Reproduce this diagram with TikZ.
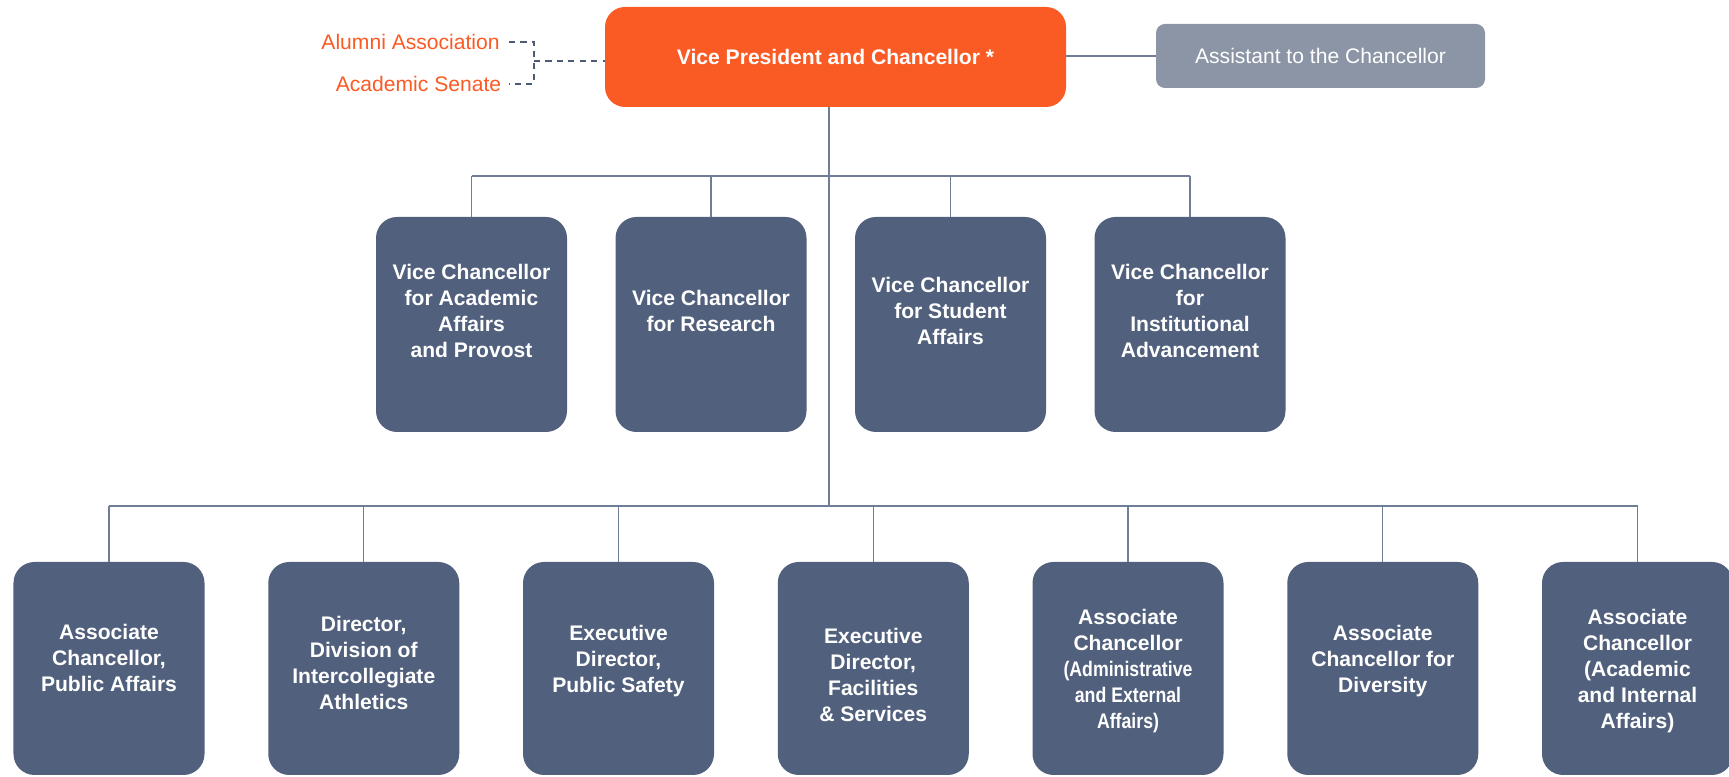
\documentclass[tikz,border=0pt]{standalone}
\usepackage{fontspec}
\setmainfont{Liberation Sans}
\usepackage{graphicx}
\definecolor{vporange}{HTML}{FA5A24}
\definecolor{slate}{HTML}{51607C}
\definecolor{greybox}{HTML}{8B95A5}
\definecolor{wirecol}{HTML}{6F7D97}
\definecolor{dashcol}{HTML}{4E5B75}
\tikzset{
  unit/.style={rounded corners=.42cm, fill=slate, minimum width=3.82cm, minimum height=4.3cm, inner sep=0pt},
  unittext/.style={text=white, align=center, font=\fontsize{12}{14.8}\selectfont\bfseries, inner sep=0pt},
  wire/.style={draw=wirecol, line width=.7pt},
  dashwire/.style={draw=dashcol, line width=.9pt, dash pattern=on 3.5pt off 3pt},
}
\newcommand{\narrow}[1]{\scalebox{.84}[1]{#1}}
\begin{document}
\begin{tikzpicture}
\useasboundingbox (0,0) rectangle (34.58,15.54);
\node[rounded corners=.4cm, fill=vporange, minimum width=9.22cm, minimum height=2cm, text=white, font=\fontsize{12}{14.8}\selectfont\bfseries] (vp) at (16.71,14.4) {Vice President and Chancellor *};
\node[rounded corners=.18cm, fill=greybox, minimum width=6.58cm, minimum height=1.28cm, text=white, font=\fontsize{12}{14.8}\selectfont] (asst) at (26.41,14.42) {Assistant to the Chancellor};
\node[anchor=east, inner sep=0pt, text=vporange, font=\fontsize{12}{14.8}\selectfont] (alumni) at (10,14.7) {Alumni Association};
\node[anchor=east, inner sep=0pt, text=vporange, font=\fontsize{12}{14.8}\selectfont] (senate) at (10.03,13.86) {Academic Senate};
\coordinate (brk) at (10.68,14.32);
\coordinate (upbus) at (16.58,12.02);
\coordinate (lowbus) at (16.58,5.42);
\draw[dashwire] ([xshift=.18cm]alumni.east) -| (brk) |- ([xshift=.15cm]senate.east);
\draw[dashwire] (brk) -- (vp.west |- brk);
\draw[wire] (vp.east |- asst.west) -- (asst.west);
\draw[wire] (vp.south -| lowbus) -- (lowbus);
\foreach \n/\x/\txt in {1/9.43/{Vice Chancellor\\for Academic\\Affairs\\and Provost},
  2/14.22/{Vice Chancellor\\for Research},
  3/19.01/{Vice Chancellor\\for Student\\Affairs},
  4/23.80/{Vice Chancellor\\for\\Institutional\\Advancement}}
{
  \node[unit] (vc\n) at (\x,9.05) {};
  \node[unittext] (vc\n-t) at (\x,9.33) {\txt};
  \draw[wire] (vc\n.north) -- (vc\n.north |- upbus);
}
\draw[wire] (vc1.north |- upbus) -- (vc4.north |- upbus);
\foreach \n/\x/\ty/\txt in {1/2.18/2.38/{Associate\\Chancellor,\\Public Affairs},
  2/7.275/2.29/{Director,\\Division of\\Intercollegiate\\Athletics},
  3/12.37/2.31/{Executive\\Director,\\Public Safety},
  4/17.465/2.04/{Executive\\Director,\\Facilities\\\& Services},
  5/22.56/2.11/{Associate\\Chancellor\\\narrow{(Administrative}\\\narrow{and External}\\\narrow{Affairs)}},
  6/27.655/2.31/{Associate\\Chancellor for\\Diversity},
  7/32.75/2.11/{Associate\\Chancellor\\(Academic\\and Internal\\Affairs)}}
{
  \node[unit, minimum height=4.26cm] (ac\n) at (\x,2.17) {};
  \node[unittext] (ac\n-t) at (\x,\ty) {\txt};
  \draw[wire] (ac\n.north) -- (ac\n.north |- lowbus);
}
\draw[wire] (ac1.north |- lowbus) -- (ac7.north |- lowbus);
\end{tikzpicture}
\end{document}
